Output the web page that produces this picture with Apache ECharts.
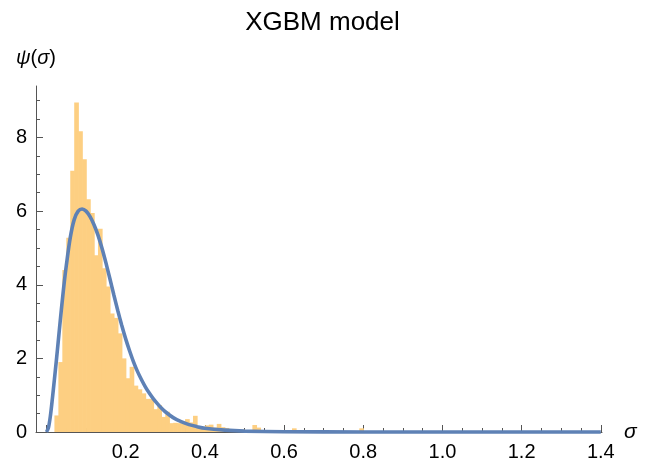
<!DOCTYPE html>
<html>
<head>
<meta charset="utf-8">
<script src="https://cdn.jsdelivr.net/npm/echarts@6/dist/echarts.min.js"></script>
<style>
  html, body { margin: 0; padding: 0; background: #fff; }
  #chart { width: 645px; height: 470px; }
</style>
</head>
<body>
<div id="chart"></div>
<script>
// ---- Data ----
const BIN_WIDTH = 0.01;
// histogram densities, one per bin starting at 0.00, 0.01, 0.02, ...
const histDensity = [
  0, 0, 0.45, 1.9, 4.4, 5.28, 7.1, 8.95, 8.17, 7.41,
  6.32, 5.95, 4.8, 5.52, 4.45, 3.95, 3.22, 3.1, 2.68, 2.0,
  1.46, 1.77, 1.26, 1.16, 1.05, 0.9, 0.9, 0.62, 0.73, 0.41,
  0.55, 0.24, 0.25, 0.24, 0.22, 0.35, 0.26, 0.44, 0.16, 0.14,
  0.18, 0.2, 0.12, 0.22, 0.13, 0.11, 0.05, 0.05, 0.04, 0.06,
  0.03, 0.03, 0.19, 0.12, 0.03, 0.03, 0.03, 0.03, 0.03, 0,
  0, 0, 0.1, 0.03, 0.03, 0, 0, 0, 0, 0,
  0, 0, 0, 0, 0, 0, 0, 0, 0, 0.1
];
// fitted density curve
const curveX = [0, 0.005, 0.01, 0.015, 0.02, 0.025, 0.03, 0.035, 0.04, 0.045,
  0.05, 0.06, 0.07, 0.08, 0.09, 0.10, 0.11, 0.12, 0.13, 0.14,
  0.15, 0.16, 0.17, 0.18, 0.19, 0.20, 0.21, 0.22, 0.23, 0.24,
  0.25, 0.26, 0.27, 0.28, 0.29, 0.30, 0.32, 0.34, 0.36, 0.38,
  0.40, 0.45, 0.50, 0.60, 0.80, 1.00, 1.20, 1.40];
const curveY = [0, 0.12, 0.45, 0.92, 1.43, 1.95, 2.5, 3.05, 3.58, 4.08,
  4.52, 5.28, 5.77, 6.0, 6.06, 6.0, 5.85, 5.63, 5.35, 5.0,
  4.6, 4.17, 3.73, 3.3, 2.9, 2.53, 2.2, 1.9, 1.64, 1.42,
  1.22, 1.05, 0.9, 0.77, 0.65, 0.55, 0.39, 0.28, 0.2, 0.145,
  0.1, 0.05, 0.025, 0.008, 0, 0, 0, 0];
// axis ticks
const xMajorTicks = [0, 0.2, 0.4, 0.6, 0.8, 1.0, 1.2, 1.4];
const xLabelTicks = [0.2, 0.4, 0.6, 0.8, 1.0, 1.2, 1.4];
const xMinorTicks = [0.05, 0.1, 0.15, 0.25, 0.3, 0.35, 0.45, 0.5, 0.55, 0.65, 0.7, 0.75,
  0.85, 0.9, 0.95, 1.05, 1.1, 1.15, 1.25, 1.3, 1.35];
const yMajorTicks = [0, 2, 4, 6, 8];
const yMinorTicks = [0.5, 1, 1.5, 2.5, 3, 3.5, 4.5, 5, 5.5, 6.5, 7, 7.5, 8.5, 9];

const titleText = 'XGBM model';

// ---- Build series data ----
const histData = histDensity.map((v, i) => [i * BIN_WIDTH, (i + 1) * BIN_WIDTH, v]);
const curveData = curveX.map((x, i) => [x, curveY[i]]);

const FONT = '"Liberation Sans", Arial, Helvetica, sans-serif';
const AXIS_COLOR = '#555555';
const BAR_COLOR = '#FDCF82';
const X_MIN = -0.0265, X_MAX = 1.403;
const Y_MIN = 0, Y_MAX = 9.4;

const chart = echarts.init(document.getElementById('chart'), null, { renderer: 'canvas' });

chart.setOption({
  animation: false,
  backgroundColor: '#ffffff',
  title: {
    text: titleText,
    left: 'center',
    top: 5,
    textStyle: { fontFamily: FONT, fontSize: 26, fontWeight: 'normal', color: '#000' }
  },
  grid: { left: 36, right: 43, top: 86, bottom: 38, containLabel: false },
  xAxis: [
    {
      type: 'value', min: X_MIN, max: X_MAX, position: 'bottom',
      name: 'σ', nameLocation: 'end', nameGap: 22,
      nameTextStyle: { fontFamily: FONT, fontSize: 21, fontStyle: 'italic', color: '#000', verticalAlign: 'middle' },
      axisLine: { show: true, onZero: false, lineStyle: { color: AXIS_COLOR, width: 1 } },
      axisTick: { show: true, inside: true, length: 7, customValues: xMajorTicks, lineStyle: { color: AXIS_COLOR, width: 1 } },
      axisLabel: { show: true, customValues: xLabelTicks, margin: 10, fontFamily: FONT, fontSize: 20, color: '#000',
        formatter: v => v.toFixed(1) },
      splitLine: { show: false }
    },
    {
      type: 'value', min: X_MIN, max: X_MAX, position: 'bottom',
      axisLine: { show: false, onZero: false },
      axisTick: { show: true, inside: true, length: 4, customValues: xMinorTicks, lineStyle: { color: AXIS_COLOR, width: 1 } },
      axisLabel: { show: false },
      splitLine: { show: false }
    }
  ],
  yAxis: [
    {
      type: 'value', min: Y_MIN, max: Y_MAX, position: 'left',
      name: '{i|ψ}({i|σ})', nameLocation: 'end', nameGap: 18,
      nameTextStyle: { fontFamily: FONT, fontSize: 20, color: '#000', align: 'center',
        rich: { i: { fontFamily: FONT, fontSize: 20, fontStyle: 'italic', color: '#000' } } },
      axisLine: { show: true, onZero: false, lineStyle: { color: AXIS_COLOR, width: 1 } },
      axisTick: { show: true, inside: true, length: 7, customValues: yMajorTicks, lineStyle: { color: AXIS_COLOR, width: 1 } },
      axisLabel: { show: true, customValues: yMajorTicks, margin: 9, fontFamily: FONT, fontSize: 20, color: '#000' },
      splitLine: { show: false }
    },
    {
      type: 'value', min: Y_MIN, max: Y_MAX, position: 'left', offset: 0,
      axisLine: { show: false, onZero: false },
      axisTick: { show: true, inside: true, length: 4, customValues: yMinorTicks, lineStyle: { color: AXIS_COLOR, width: 1 } },
      axisLabel: { show: false },
      splitLine: { show: false }
    }
  ],
  series: [
    {
      type: 'custom',
      xAxisIndex: 0, yAxisIndex: 0,
      clip: true,
      data: histData,
      encode: { x: [0, 1], y: 2 },
      renderItem: function (params, api) {
        const p0 = api.coord([api.value(0), api.value(2)]);
        const p1 = api.coord([api.value(1), 0]);
        return {
          type: 'rect',
          shape: { x: p0[0], y: p0[1], width: p1[0] - p0[0] + 0.7, height: p1[1] - p0[1] },
          style: { fill: BAR_COLOR, stroke: null }
        };
      },
      z: 2
    },
    {
      type: 'line',
      xAxisIndex: 0, yAxisIndex: 0,
      data: curveData,
      smooth: 0.3,
      showSymbol: false,
      clip: false,
      lineStyle: { color: '#5E81B5', width: 3.6 },
      z: 3
    }
  ]
});
</script>
</body>
</html>
